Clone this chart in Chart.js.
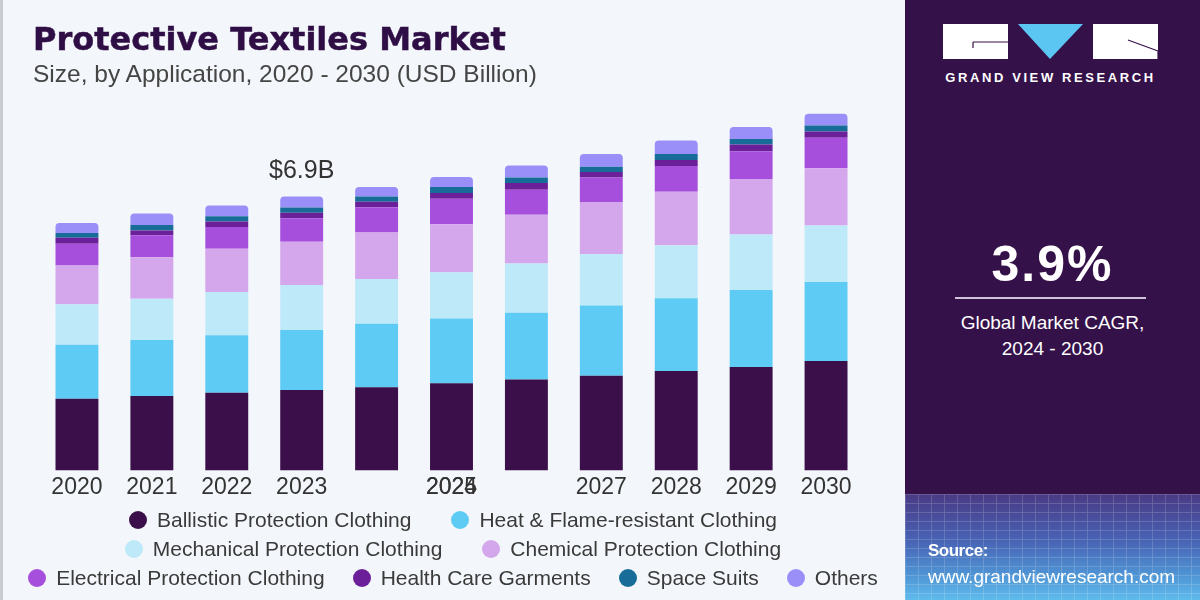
<!DOCTYPE html>
<html>
<head>
<meta charset="utf-8">
<script src="https://cdn.jsdelivr.net/npm/chart.js@4.4.1/dist/chart.umd.min.js"></script>
<style>
  body { margin: 0; width: 1200px; height: 600px; overflow: hidden; background: #f3f6fa; font-family: "Liberation Sans", Arial, sans-serif; }
  #esquerda { position: absolute; left: 0; top: 0; width: 905px; height: 600px; background: #f3f6fa; border-left: 3px solid #c8cbd1; box-sizing: border-box; }
  #titulo { position: absolute; left: 30px; top: 23px; font-family: "DejaVu Sans", sans-serif; font-size: 32px; line-height: 32px; font-weight: bold; color: #2e0e45; -webkit-text-stroke: 0.5px #2e0e45; white-space: nowrap; }
  #subtitulo { position: absolute; left: 30px; top: 60px; font-size: 24.5px; color: #454545; white-space: nowrap; }
  #grafico { position: absolute; left: 0; top: 0; }
  #legenda { position: absolute; left: 0; top: 505px; width: 900px; }
  .linha { display: flex; justify-content: center; height: 29px; align-items: center; }
  .item { display: flex; align-items: center; margin: 0 20px; font-size: 21px; color: #3a3a3a; white-space: nowrap; }
  .linha.ultima .item { margin: 0 14px; }
  .bola { width: 18px; height: 18px; border-radius: 50%; margin-right: 10px; }
  #direita { position: absolute; left: 905px; top: 0; width: 295px; height: 600px;
    background: linear-gradient(to bottom, #35114a 0px, #35114a 494px, #4a3a84 494px, #4862b4 540px, #4f94d4 575px, #5fbbec 600px); color: #fff; overflow: hidden; }
  #grade { position: absolute; left: 0; top: 494px; width: 295px; height: 106px; opacity: 0.2;
    background-image: repeating-linear-gradient(to bottom, rgba(255,255,255,0.8) 0 1px, transparent 1px 9px),
                      repeating-linear-gradient(to right, rgba(255,255,255,0.8) 0 1px, transparent 1px 13px); }
  #logo { position: absolute; left: 38px; top: 24px; }
  #marca { position: absolute; left: 36px; top: 70px; width: 219px; text-align: center; font-size: 13px; font-weight: bold; letter-spacing: 2.6px; white-space: nowrap; }
  #taxa { position: absolute; left: 0; width: 295px; top: 235px; text-align: center; font-size: 50px; font-weight: bold; letter-spacing: 2px; }
  #traco { position: absolute; left: 50px; top: 297px; width: 191px; height: 2px; background: #cfc3dc; }
  #rotulo { position: absolute; left: 0; width: 295px; top: 310px; text-align: center; font-size: 19px; line-height: 26px; }
  #fonte1 { position: absolute; left: 23px; top: 541px; font-size: 17px; font-weight: bold; letter-spacing: -0.5px; }
  #fonte2 { position: absolute; left: 23px; top: 566px; font-size: 19px; }
</style>
</head>
<body>
<div id="esquerda">
  <canvas id="grafico" width="900" height="510"></canvas>
  <div id="titulo">Protective Textiles Market</div>
  <div id="subtitulo">Size, by Application, 2020 - 2030 (USD Billion)</div>
  <div id="legenda"></div>
</div>
<div id="direita">
  <div id="grade"></div>
  <svg id="logo" width="216" height="36" viewBox="0 0 216 36">
    <rect x="0" y="0" width="65" height="35" fill="#ffffff"/>
    <path d="M30 18 H65 M30 18 V24" stroke="#35114a" stroke-width="1.2" fill="none"/>
    <polygon points="75,0 140,0 107,35" fill="#5cc6f2"/>
    <rect x="150" y="0" width="65" height="35" fill="#ffffff"/>
    <path d="M185 16 L215 27 M215 27 V35" stroke="#35114a" stroke-width="1.2" fill="none"/>
  </svg>
  <div id="marca">GRAND VIEW RESEARCH</div>
  <div id="taxa">3.9%</div>
  <div id="traco"></div>
  <div id="rotulo">Global Market CAGR,<br>2024 - 2030</div>
  <div id="fonte1">Source:</div>
  <div id="fonte2">www.grandviewresearch.com</div>
</div>

<script>
// dados (USD bilhoes)
var anos = ['2020', '2021', '2022', '2023', '2024', '2025', '2026', '2027', '2028', '2029', '2030'];
var rotulosX = ['2020', '2021', '2022', '2023', '', '2025', '', '2027', '2028', '2029', '2030'];
var rotuloSobreposto = '2024';   // aparece desenhado por cima de 2025 no original

var balistica = [1.81, 1.88, 1.96, 2.03, 2.10, 2.20, 2.29, 2.39, 2.51, 2.61, 2.76];
var calorChama = [1.36, 1.41, 1.45, 1.51, 1.60, 1.63, 1.69, 1.77, 1.83, 1.94, 1.99];
var mecanica = [1.02, 1.04, 1.09, 1.14, 1.13, 1.17, 1.24, 1.30, 1.34, 1.40, 1.43];
var quimica = [0.98, 1.05, 1.09, 1.09, 1.17, 1.21, 1.23, 1.31, 1.35, 1.40, 1.44];
var eletrica = [0.55, 0.55, 0.55, 0.59, 0.64, 0.64, 0.63, 0.62, 0.65, 0.70, 0.77];
var saude = [0.15, 0.12, 0.14, 0.14, 0.14, 0.15, 0.17, 0.14, 0.15, 0.17, 0.16];
var espaciais = [0.12, 0.14, 0.13, 0.13, 0.13, 0.15, 0.14, 0.13, 0.15, 0.14, 0.15];
var outros = [0.25, 0.29, 0.27, 0.28, 0.24, 0.25, 0.30, 0.32, 0.34, 0.30, 0.30];

var nomes = ['Ballistic Protection Clothing', 'Heat & Flame-resistant Clothing', 'Mechanical Protection Clothing',
  'Chemical Protection Clothing', 'Electrical Protection Clothing', 'Health Care Garments', 'Space Suits', 'Others'];
var cores = ['#3a0f4a', '#5ecbf5', '#bee9f8', '#d4a6ec', '#a64fdc', '#6b1f98', '#176d98', '#9a8ff8'];
var series = [balistica, calorChama, mecanica, quimica, eletrica, saude, espaciais, outros];

var destaque = { indice: 3, texto: '$6.9B' };

var datasets = series.map(function (s, i) {
  return {
    label: nomes[i],
    data: s,
    backgroundColor: cores[i],
    borderWidth: 0,
    borderRadius: i === series.length - 1 ? { topLeft: 4, topRight: 4 } : 0,
    borderSkipped: 'bottom'
  };
});

var textos = {
  id: 'textos',
  afterDraw: function (chart) {
    var ctx = chart.ctx;
    var x = chart.scales.x;
    var metaTopo = chart.getDatasetMeta(series.length - 1);
    ctx.save();
    ctx.fillStyle = '#333333';
    ctx.textAlign = 'center';
    ctx.font = '25px "Liberation Sans", Arial, sans-serif';
    ctx.textBaseline = 'bottom';
    var barra = metaTopo.data[destaque.indice];
    ctx.fillText(destaque.texto, barra.x, barra.y - 13);
    // rotulo do eixo que se sobrepoe
    ctx.font = '23px "Liberation Sans", Arial, sans-serif';
    ctx.textBaseline = 'middle';
    ctx.fillText(rotuloSobreposto, x.getPixelForTick(5), x.top + 3 + 13.8);
    ctx.restore();
  }
};

var ctx = document.getElementById('grafico').getContext('2d');
var chart = new Chart(ctx, {
  type: 'bar',
  data: { labels: anos, datasets: datasets },
  options: {
    responsive: false,
    animation: false,
    devicePixelRatio: 1,
    layout: { padding: { left: 36.5, right: 39.5, top: 74, bottom: 6 } },
    plugins: { legend: { display: false }, tooltip: { enabled: false } },
    datasets: { bar: { categoryPercentage: 1, barPercentage: 0.573 } },
    scales: {
      x: {
        stacked: true,
        grid: { display: false, drawTicks: false },
        border: { display: false },
        ticks: {
          padding: 3,
          color: '#333333',
          font: { family: '"Liberation Sans", Arial, sans-serif', size: 23 },
          callback: function (v, i) { return rotulosX[i]; }
        }
      },
      y: { stacked: true, display: false, min: 0, max: 10 }
    }
  },
  plugins: [textos]
});

// legenda em tres linhas como no original
var linhas = [[0, 1], [2, 3], [4, 5, 6, 7]];
var leg = document.getElementById('legenda');
linhas.forEach(function (linha, n) {
  var div = document.createElement('div');
  div.className = n === linhas.length - 1 ? 'linha ultima' : 'linha';
  linha.forEach(function (i) {
    var item = document.createElement('div');
    item.className = 'item';
    item.innerHTML = '<span class="bola" style="background:' + cores[i] + '"></span>';
    item.appendChild(document.createTextNode(nomes[i]));
    div.appendChild(item);
  });
  leg.appendChild(div);
});
</script>
</body>
</html>
